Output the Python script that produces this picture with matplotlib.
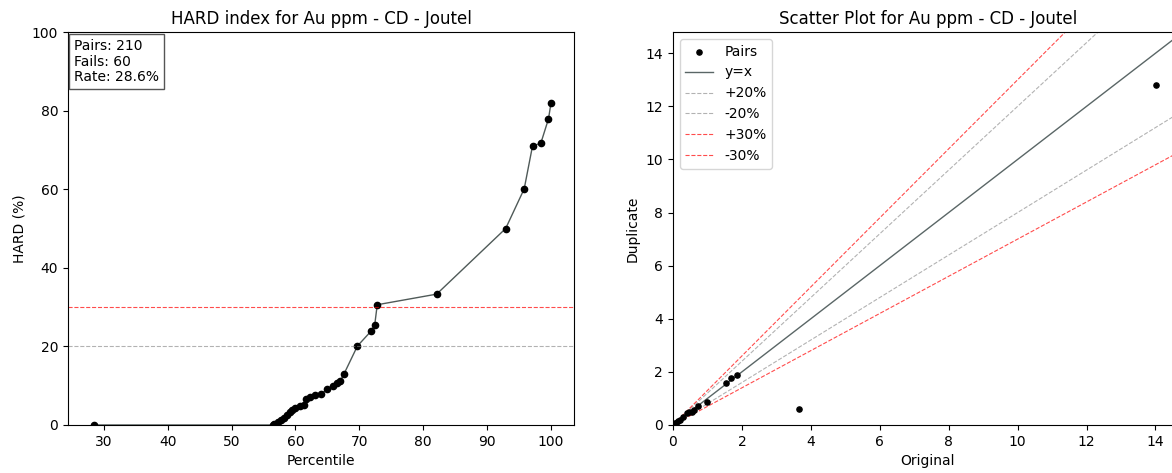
import numpy as np
import matplotlib
matplotlib.use("Agg")
from matplotlib import pyplot as plt

# HARD index curve (percentile, HARD %)
percentile = [28.4, 56.5, 56.7, 57.2, 57.7, 58.2, 58.6, 59.1, 59.5, 60.0, 60.7,
              61.3, 61.7, 62.2, 63.1, 64.0, 65.0, 65.8, 66.5, 67.0, 67.6,
              69.7, 71.9, 72.4, 72.8, 82.1, 92.9, 95.8, 97.1, 98.4, 99.6, 100.0]
hard = [0.0, 0.0, 0.2, 0.7, 1.3, 1.9, 2.5, 3.4, 3.8, 4.2, 4.8,
        5.0, 6.6, 7.2, 7.6, 7.9, 9.1, 9.9, 10.6, 11.2, 13.0,
        20.1, 24.0, 25.4, 30.6, 33.3, 50.0, 60.1, 71.0, 71.7, 77.9, 82.0]

# scatter pairs (original, duplicate)
original = [0.02, 0.06, 0.1, 0.15, 0.2, 0.3, 0.4, 0.47, 0.54, 0.6, 0.73,
            0.98, 1.54, 1.67, 1.87, 3.65, 14.03]
duplicate = [0.02, 0.06, 0.09, 0.14, 0.19, 0.3, 0.44, 0.48, 0.50, 0.58, 0.73,
             0.88, 1.60, 1.78, 1.90, 0.62, 12.8]

n_pairs = 210
n_fails = 60
fail_rate = 28.6

plt.rcParams['font.size'] = 10

fig = plt.figure(figsize=(11.72, 4.73), dpi=100)

# left: HARD plot
ax1 = fig.add_axes([0.058, 0.1015, 0.4318, 0.8308])
ax1.plot(percentile, hard, color="#4f5a58", lw=1, marker="o", ms=4.5,
         mfc="k", mec="k")
ax1.axhline(30, color="red", ls="--", lw=0.8, alpha=0.7)
ax1.axhline(20, color="gray", ls="--", lw=0.8, alpha=0.6)
ax1.set_ylim(0, 100)
ax1.set_xlim(24.4, 103.6)
ax1.set_xlabel("Percentile")
ax1.set_ylabel("HARD (%)")
ax1.set_title("HARD index for Au ppm - CD - Joutel")
ax1.text(0.012, 0.982, "Pairs: %d\nFails: %d\nRate: %.1f%%" % (n_pairs, n_fails, fail_rate),
         transform=ax1.transAxes, va="top", ha="left", fontsize=10, linespacing=1.15,
         bbox=dict(boxstyle="square,pad=0.35", fc="white", ec="#555555"))

# right: scatter plot
lim = 14.8
ax2 = fig.add_axes([0.5742, 0.1015, 0.4352, 0.8308])
xs = np.array([0, lim])
ax2.scatter(original, duplicate, s=14, color="k", label="Pairs", zorder=3)
ax2.plot(xs, xs, color="#5a6666", lw=1, label="y=x")
ax2.plot(xs, xs * 1.2, color="gray", ls="--", lw=0.8, alpha=0.6, label="+20%")
ax2.plot(xs, xs * 0.8, color="gray", ls="--", lw=0.8, alpha=0.6, label="-20%")
ax2.plot(xs, xs * 1.3, color="red", ls="--", lw=0.8, alpha=0.7, label="+30%")
ax2.plot(xs, xs * 0.7, color="red", ls="--", lw=0.8, alpha=0.7, label="-30%")
ax2.set_xlim(0, lim)
ax2.set_ylim(0, lim)
ax2.set_xlabel("Original")
ax2.set_ylabel("Duplicate")
ax2.set_title("Scatter Plot for Au ppm - CD - Joutel")
ax2.legend(loc="upper left")

fig.savefig("out.png", dpi=100)
